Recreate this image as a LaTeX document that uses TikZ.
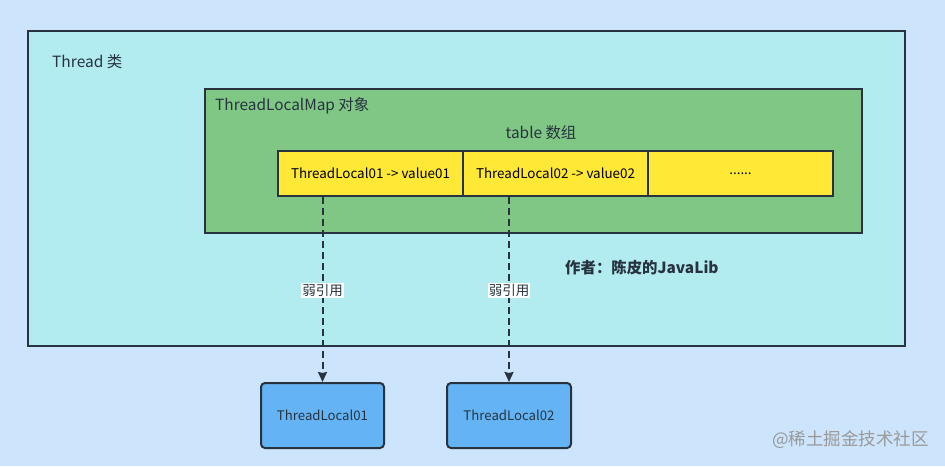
\documentclass[tikz,border=0pt]{standalone}
\usepackage{fontspec}
\setmainfont{Noto Sans CJK SC}
\usetikzlibrary{arrows.meta}
\definecolor{sfondo}{HTML}{CCE4FC}
\definecolor{ciano}{HTML}{B2EBF0}
\definecolor{verde}{HTML}{80C685}
\definecolor{giallo}{HTML}{FFE936}
\definecolor{azzurro}{HTML}{64B3F4}
\definecolor{bordo}{HTML}{27343F}
\tikzset{
    box/.style={draw=bordo, line width=2pt, anchor=north west, inner sep=0pt},
    cella/.style={box, fill=giallo, minimum width=185pt, minimum height=45pt, font=\fontsize{13.4}{15}\selectfont},
    rif/.style={draw=bordo, line width=2pt, dash pattern=on 7pt off 4pt, -{Stealth[length=10pt,width=9pt,inset=1pt]}},
    etichetta/.style={fill=white, inner sep=1pt, font=\fontsize{13.5}{15}\selectfont, text=bordo}
}

\begin{document}
\begin{tikzpicture}[x=1pt,y=-1pt]
        % Sfondo
        \fill[sfondo] (0,0) rectangle (945,466);
        \useasboundingbox (0,0) rectangle (945,466);
        % Thread
        \node[box, fill=ciano, minimum width=877pt, minimum height=315pt] (thread) at (27,30) {};
        \node[anchor=west, inner sep=0pt, text=bordo, font=\fontsize{15.5}{17}\selectfont] (threadlbl) at (52,62) {Thread 类};
        % ThreadLocalMap
        \node[box, fill=verde, minimum width=657pt, minimum height=144pt] (map) at (204,88) {};
        \node[anchor=west, inner sep=0pt, text=bordo, font=\fontsize{15.4}{17}\selectfont] (maplbl) at (215,106) {ThreadLocalMap 对象};
        \node[text=bordo, font=\fontsize{15.4}{17}\selectfont] (tablelbl) at (541,133) {table 数组};
        % table
        \node[cella] (c1) at (277,150) {ThreadLocal01 -> value01};
        \node[cella] (c2) at (462,150) {ThreadLocal02 -> value02};
        \node[cella] (c3) at (647,150) {......};
        % autore
        \node[anchor=west, inner sep=0pt, text=bordo, font=\bfseries\fontsize{15.4}{17}\selectfont] (autore) at (565,268) {作者：陈皮的JavaLib};
        % ThreadLocal
        \node[box, fill=azzurro, rounded corners=4pt, minimum width=123pt, minimum height=65pt, font=\fontsize{13.2}{15}\selectfont, text=bordo] (tl1) at (260,382) {ThreadLocal01};
        \node[box, fill=azzurro, rounded corners=4pt, minimum width=124pt, minimum height=65pt, font=\fontsize{13.2}{15}\selectfont, text=bordo] (tl2) at (446,382) {ThreadLocal02};
        % Riferimenti deboli
        \draw[rif] (tl1.north |- c1.south) -- node[etichetta, pos=0.505] {弱引用} (tl1.north);
        \draw[rif] (tl2.north |- c2.south) -- node[etichetta, pos=0.505] {弱引用} (tl2.north);
        % Firma
        \node[anchor=east, inner sep=0pt, text=black!40, font=\fontsize{17.5}{19}\selectfont] (firma) at (929,440) {@稀土掘金技术社区};
    \end{tikzpicture}
\end{document}
